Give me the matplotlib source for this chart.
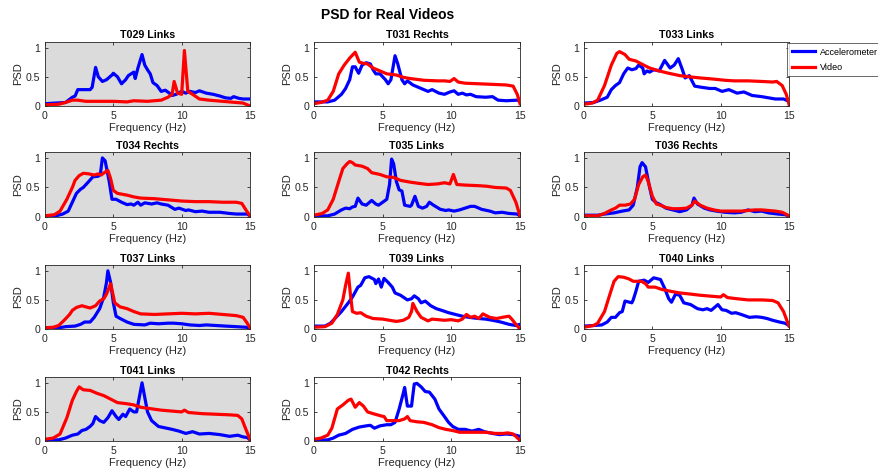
import numpy as np
import matplotlib
matplotlib.use("Agg")
import matplotlib.pyplot as plt

plt.rcParams['font.family'] = ['Liberation Sans', 'DejaVu Sans']

# (frequency Hz, normalised PSD)
t029_acc = [(0, .04), (1.5, .06), (2, .15), (2.2, .17), (2.4, .28), (3.3, .28), (3.45, .32), (3.7, .66), (3.9, .5),
            (4.2, .42), (4.5, .45), (4.9, .53), (5.0, .56), (5.3, .5), (5.6, .38), (5.9, .45), (6.1, .52), (6.3, .55),
            (6.5, .58), (6.6, .47), (6.8, .65), (7.1, .88), (7.3, .7), (7.5, .62), (7.7, .55), (7.9, .4), (8.2, .35),
            (8.5, .25), (8.8, .27), (9.1, .22), (9.3, .18), (9.6, .2), (10, .25), (10.3, .22), (10.6, .25), (11, .23),
            (11.3, .26), (11.8, .22), (12.3, .2), (12.8, .17), (13.2, .14), (13.6, .13), (13.8, .16), (14.2, .13),
            (14.5, .12), (15, .12)]
t029_vid = [(0, .02), (1, .03), (1.5, .06), (2, .1), (2.4, .1), (3, .08), (4, .08), (5, .08), (6, .07), (6.5, .09),
            (7.5, .08), (8.5, .1), (9, .15), (9.3, .2), (9.45, .42), (9.7, .22), (10, .2), (10.2, .95), (10.45, .25),
            (10.8, .2), (11.3, .12), (12, .1), (13, .08), (14, .06), (14.5, .05), (15, 0)]

t031_acc = [(0, .07), (1, .07), (1.5, .1), (2, .2), (2.3, .3), (2.6, .45), (2.8, .67), (3.0, .67), (3.25, .56),
            (3.5, .7), (3.8, .74), (4.1, .72), (4.3, .62), (4.5, .55), (4.8, .55), (5.2, .45), (5.4, .38), (5.6, .45),
            (5.9, .86), (6.1, .72), (6.4, .45), (6.6, .38), (6.8, .43), (7.2, .36), (7.8, .3), (8.3, .25), (8.6, .28),
            (9.1, .22), (9.5, .2), (9.9, .24), (10.2, .26), (10.5, .2), (10.8, .22), (11.1, .19), (11.4, .2),
            (11.8, .16), (12.5, .15), (13, .16), (13.4, .1), (14, .09), (14.8, .1), (15, .08)]
t031_vid = [(0, .04), (0.5, .06), (1, .1), (1.4, .25), (1.8, .55), (2.2, .7), (2.6, .82), (3.0, .92), (3.3, .75),
            (3.6, .73), (3.9, .72), (4.3, .65), (4.8, .6), (5.3, .55), (6, .53), (6.5, .49), (7, .47), (8, .44),
            (9, .43), (9.5, .43), (9.9, .42), (10.2, .47), (10.5, .41), (11, .39), (12, .38), (13, .37), (14, .36),
            (14.5, .34), (14.8, .2), (15, .04)]

t033_acc = [(0, .05), (0.7, .06), (1.2, .1), (1.7, .15), (2, .28), (2.3, .35), (2.6, .4), (2.9, .55), (3.2, .65),
            (3.5, .62), (3.8, .64), (4.0, .7), (4.3, .65), (4.4, .55), (4.6, .6), (4.8, .58), (5.1, .62), (5.5, .6),
            (5.9, .78), (6.3, .65), (6.6, .7), (6.9, .81), (7.2, .62), (7.4, .48), (7.7, .52), (8.1, .34), (8.6, .32),
            (9.2, .3), (9.6, .3), (10.1, .25), (10.6, .28), (11.2, .22), (11.7, .24), (12.3, .18), (13, .16),
            (13.5, .14), (14, .12), (14.6, .12), (15, .08)]
t033_vid = [(0, .03), (0.6, .05), (1, .1), (1.5, .35), (2, .7), (2.4, .9), (2.6, .93), (3, .88), (3.3, .8),
            (3.8, .77), (4.2, .72), (4.8, .65), (5.5, .6), (6.2, .56), (7, .52), (7.7, .5), (8.5, .48), (9.5, .46),
            (10.3, .44), (11, .43), (12, .43), (13, .42), (13.8, .41), (14.1, .42), (14.5, .35), (14.8, .2), (15, .03)]

t034_acc = [(0, .02), (0.8, .02), (1.3, .05), (1.7, .1), (2, .25), (2.3, .4), (2.6, .47), (2.8, .5), (3.2, .6),
            (3.5, .68), (3.9, .69), (4.05, .72), (4.2, 1.0), (4.4, .95), (4.7, .6), (4.9, .3), (5.2, .3), (5.6, .25),
            (6, .21), (6.3, .22), (6.5, .2), (6.8, .25), (7, .2), (7.3, .24), (7.8, .22), (8.2, .24), (8.5, .22),
            (9, .2), (9.5, .13), (9.8, .15), (10.3, .11), (10.5, .12), (11, .09), (11.5, .1), (12, .08), (12.8, .08),
            (13.5, .06), (14, .05), (14.8, .05), (15, .02)]
t034_vid = [(0, .02), (0.7, .04), (1.1, .1), (1.6, .3), (2.0, .5), (2.2, .62), (2.5, .7), (2.8, .74), (3.2, .73),
            (3.6, .71), (3.9, .73), (4.1, .71), (4.4, .76), (4.6, .79), (4.8, .65), (5.0, .45), (5.3, .4), (6, .37),
            (6.5, .34), (7, .32), (8, .31), (9, .29), (10, .27), (11, .26), (12, .26), (13, .25), (14, .25),
            (14.4, .23), (14.7, .12), (15, .02)]

t035_acc = [(0, .02), (1, .02), (1.5, .05), (2, .12), (2.3, .15), (2.6, .14), (2.8, .17), (3.0, .18), (3.2, .32),
            (3.5, .22), (3.8, .2), (4.2, .28), (4.5, .22), (4.7, .2), (5.0, .25), (5.3, .3), (5.5, .55), (5.65, .98),
            (5.8, .9), (6.0, .6), (6.2, .46), (6.4, .44), (6.6, .2), (7.0, .18), (7.1, .2), (7.35, .35), (7.6, .18),
            (7.9, .15), (8.2, .18), (8.4, .25), (8.7, .2), (9.2, .13), (9.6, .11), (9.8, .12), (10.2, .1),
            (10.6, .12), (11, .15), (11.4, .18), (11.7, .18), (12.2, .13), (12.8, .1), (13.2, .07), (13.7, .08),
            (14.2, .06), (14.8, .05), (15, .02)]
t035_vid = [(0, .03), (0.6, .06), (1, .12), (1.4, .3), (1.8, .6), (2.1, .82), (2.4, .9), (2.6, .94), (2.8, .92),
            (3.0, .88), (3.5, .86), (3.9, .82), (4.2, .75), (4.8, .72), (5.3, .68), (5.8, .67), (6.3, .62), (7, .59),
            (7.6, .57), (8.3, .55), (9, .56), (9.5, .58), (9.9, .56), (10.15, .72), (10.4, .55), (11, .54), (12, .53),
            (12.6, .52), (13.2, .5), (14, .49), (14.3, .45), (14.7, .25), (15, .02)]

t036_acc = [(0, .03), (1, .03), (1.5, .05), (2.2, .07), (2.8, .1), (3.3, .12), (3.6, .2), (3.9, .5), (4.1, .85),
            (4.25, .92), (4.5, .85), (4.8, .5), (5.0, .3), (5.3, .24), (5.5, .22), (6, .15), (6.5, .12), (7, .09),
            (7.5, .12), (7.9, .2), (8.05, .32), (8.3, .22), (8.8, .15), (9.2, .12), (9.7, .1), (10.3, .08), (11, .07),
            (11.5, .08), (12, .12), (12.5, .09), (13, .1), (13.5, .07), (14.2, .05), (14.7, .04), (15, .02)]
t036_vid = [(0, .02), (1, .02), (1.5, .06), (2, .12), (2.3, .15), (2.6, .2), (3.0, .2), (3.4, .22), (3.7, .3),
            (4.0, .55), (4.3, .68), (4.5, .71), (4.7, .6), (5.0, .35), (5.3, .22), (5.6, .2), (6, .16), (6.5, .14),
            (7, .14), (7.5, .15), (7.9, .2), (8.1, .27), (8.5, .2), (9, .15), (9.5, .12), (10, .1), (11, .1),
            (11.5, .1), (12, .11), (12.5, .12), (13, .12), (13.5, .11), (14, .1), (14.5, .08), (15, .02)]

t037_acc = [(0, .02), (1, .02), (1.5, .04), (2.2, .05), (2.6, .08), (2.9, .12), (3.3, .12), (3.6, .2), (4, .35),
            (4.3, .55), (4.5, .8), (4.6, 1.0), (4.8, .8), (5.0, .45), (5.2, .22), (5.5, .18), (6, .12), (6.5, .08),
            (7.3, .07), (7.7, .1), (8.3, .09), (9, .1), (9.4, .1), (10, .09), (10.6, .07), (11.3, .06), (11.8, .07),
            (12.5, .06), (13.2, .05), (14, .04), (14.7, .03), (15, .02)]
t037_vid = [(0, .02), (0.6, .03), (1, .06), (1.4, .15), (1.8, .25), (2.0, .32), (2.3, .37), (2.7, .4), (3.0, .38),
            (3.3, .36), (3.7, .4), (4.0, .48), (4.3, .52), (4.5, .6), (4.8, .78), (4.95, .62), (5.1, .45), (5.5, .38),
            (6, .35), (6.5, .3), (7, .26), (8, .25), (9, .26), (10, .27), (11, .26), (12, .27), (13, .25), (14, .23),
            (14.5, .2), (14.8, .1), (15, .02)]

t039_acc = [(0, .05), (0.8, .05), (1.2, .1), (1.6, .2), (2, .3), (2.5, .45), (2.8, .55), (3.2, .72), (3.4, .75),
            (3.7, .88), (4, .9), (4.4, .85), (4.5, .78), (4.7, .86), (4.9, .72), (5.1, .87), (5.4, .8), (5.7, .72),
            (5.9, .62), (6.3, .58), (6.8, .5), (7.1, .52), (7.3, .57), (7.6, .52), (7.8, .45), (8.1, .48), (8.5, .4),
            (8.9, .35), (9.3, .32), (9.8, .28), (10.3, .25), (10.8, .22), (11.3, .2), (12, .18), (12.5, .17),
            (13, .15), (13.6, .12), (14.2, .08), (14.7, .06), (15, .08)]
t039_vid = [(0, .03), (0.8, .04), (1.3, .1), (1.7, .25), (2.1, .5), (2.3, .75), (2.5, .96), (2.65, .6), (2.8, .3),
            (3.1, .27), (3.4, .28), (3.8, .22), (4.3, .18), (5, .17), (5.5, .15), (6, .13), (6.5, .15), (6.9, .2),
            (7.1, .3), (7.2, .44), (7.5, .3), (7.8, .2), (8.3, .14), (8.6, .17), (9.5, .15), (10, .16), (10.5, .14),
            (10.8, .17), (11.1, .25), (11.4, .2), (11.7, .22), (12, .18), (12.3, .26), (12.8, .2), (13.3, .18),
            (13.7, .2), (14.2, .22), (14.4, .17), (14.7, .08), (15, 0)]

t040_acc = [(0, .05), (0.7, .06), (1.3, .07), (1.7, .12), (2, .2), (2.3, .2), (2.6, .28), (2.8, .3), (3.0, .48),
            (3.5, .45), (3.6, .5), (3.8, .65), (4.0, .82), (4.4, .84), (4.7, .8), (5.1, .88), (5.6, .85), (5.9, .7),
            (6.2, .52), (6.4, .46), (6.7, .6), (7.0, .58), (7.3, .45), (7.8, .42), (8.3, .35), (8.7, .33), (9.0, .35),
            (9.3, .32), (9.6, .38), (9.8, .42), (10.1, .33), (10.4, .32), (10.8, .27), (11.1, .28), (11.5, .25),
            (12.1, .2), (12.6, .21), (13, .2), (13.4, .18), (13.8, .15), (14.3, .12), (14.7, .1), (15, .06)]
t040_vid = [(0, .03), (0.7, .06), (1.0, .1), (1.5, .3), (1.9, .6), (2.2, .82), (2.5, .9), (2.9, .89), (3.3, .86),
            (3.6, .82), (4.2, .82), (4.5, .78), (4.7, .72), (5.2, .72), (5.7, .68), (6.3, .65), (7, .62), (7.8, .6),
            (8.5, .58), (9.5, .56), (10, .55), (10.2, .59), (10.5, .54), (11.2, .52), (12, .5), (13, .5), (13.8, .49),
            (14.2, .45), (14.6, .3), (15, .05)]

t041_acc = [(0, .01), (1, .02), (1.5, .05), (2, .1), (2.4, .12), (2.7, .18), (3, .2), (3.3, .25), (3.5, .3),
            (3.7, .42), (4.0, .35), (4.3, .32), (4.6, .4), (4.9, .52), (5.2, .42), (5.4, .37), (5.7, .46), (5.9, .42),
            (6.2, .55), (6.5, .5), (6.7, .5), (6.9, .75), (7.1, 1.0), (7.3, .75), (7.5, .5), (7.8, .35), (8.3, .25),
            (8.7, .23), (9.3, .2), (9.8, .17), (10.3, .13), (10.8, .16), (11.3, .12), (12, .13), (12.8, .11),
            (13.5, .08), (14.1, .1), (14.5, .07), (14.8, .06), (15, .02)]
t041_vid = [(0, .03), (0.6, .05), (1.1, .12), (1.6, .4), (2.0, .7), (2.3, .85), (2.5, .93), (2.8, .88), (3.3, .87),
            (3.8, .82), (4.3, .78), (4.8, .72), (5.3, .66), (6, .64), (6.5, .62), (7, .58), (7.6, .56), (8.5, .53),
            (9.5, .51), (10, .5), (10.2, .53), (10.5, .49), (11.5, .47), (12.5, .46), (13.5, .45), (14.1, .44),
            (14.4, .38), (14.7, .2), (15, .03)]

t042_acc = [(0, .01), (1, .02), (1.4, .05), (1.8, .1), (2.3, .13), (2.8, .2), (3.3, .24), (3.8, .26), (4.1, .27),
            (4.4, .22), (4.8, .26), (5.3, .28), (5.6, .28), (5.9, .32), (6.2, .55), (6.5, .82), (6.6, .92), (6.8, .6),
            (7.1, .6), (7.3, .98), (7.5, .99), (7.8, .93), (8.1, .85), (8.4, .84), (8.8, .72), (9.1, .55), (9.5, .42),
            (9.8, .32), (10.1, .25), (10.5, .2), (11, .2), (11.5, .17), (12, .2), (12.4, .16), (13, .13), (13.5, .11),
            (14, .12), (14.5, .11), (15, .08)]
t042_vid = [(0, .03), (0.5, .05), (1, .1), (1.3, .22), (1.7, .55), (2.1, .62), (2.5, .7), (2.7, .72), (3.0, .58),
            (3.3, .66), (3.6, .6), (3.9, .5), (4.3, .47), (4.9, .43), (5.1, .42), (5.3, .35), (5.8, .35), (6.2, .35),
            (6.6, .38), (6.8, .42), (7.0, .35), (7.5, .33), (8, .32), (8.6, .28), (9.1, .23), (9.6, .2), (10.1, .18),
            (10.6, .15), (11.5, .15), (12.5, .15), (13.2, .13), (13.8, .13), (14.1, .14), (14.5, .12), (14.7, .08),
            (15, .01)]

titles = ['T029 Links', 'T031 Rechts', 'T033 Links', 'T034 Rechts', 'T035 Links', 'T036 Rechts',
          'T037 Links', 'T039 Links', 'T040 Links', 'T041 Links', 'T042 Rechts']
acc_series = [t029_acc, t031_acc, t033_acc, t034_acc, t035_acc, t036_acc, t037_acc, t039_acc, t040_acc,
              t041_acc, t042_acc]
vid_series = [t029_vid, t031_vid, t033_vid, t034_vid, t035_vid, t036_vid, t037_vid, t039_vid, t040_vid,
              t041_vid, t042_vid]
grey_panels = ['T029 Links', 'T034 Rechts', 'T035 Links', 'T036 Rechts', 'T037 Links', 'T041 Links']

W, H = 879, 476
fig = plt.figure(figsize=(W / 100, H / 100), dpi=100)

col_px = [(45, 250), (314, 520), (584, 789)]
row_px = [(41.7, 106), (152, 217), (265, 329), (377, 441)]
txt = (0.15, 0.15, 0.15)

lines = []
for i, name in enumerate(titles):
    r, c = divmod(i, 3)
    l, rr = col_px[c]
    t, b = row_px[r]
    ax = fig.add_axes([l / W, 1 - b / H, (rr - l) / W, (b - t) / H])
    if name in grey_panels:
        ax.set_facecolor((0.86, 0.86, 0.86))
    a = np.array(acc_series[i]).T
    v = np.array(vid_series[i]).T
    la, = ax.plot(a[0], a[1], color=(0, 0, 1), lw=2.3)
    lv, = ax.plot(v[0], v[1], color=(1, 0, 0), lw=2.3)
    lines = [la, lv]
    ax.set_xlim(0, 15)
    ax.set_ylim(0, 1.1)
    ax.set_xticks([0, 5, 10, 15])
    ax.set_yticks([0, 0.5, 1])
    ax.set_yticklabels(['0', '0.5', '1'])
    ax.tick_params(direction='in', top=True, right=True, length=2.5, width=0.6,
                   labelsize=7.6, colors=txt, pad=3.5)
    for s in ax.spines.values():
        s.set_linewidth(0.6)
        s.set_color(txt)
    ax.set_xlabel('Frequency (Hz)', fontsize=8, color=txt, labelpad=1.5)
    ax.set_ylabel('PSD', fontsize=8, color=txt, labelpad=1.5)
    ax.set_title(name, fontsize=7.7, fontweight='bold', pad=2.5)

leg = fig.legend(lines, ['Accelerometer', 'Video'], loc='upper left',
                 bbox_to_anchor=(787 / W, 1 - 43 / H), fontsize=6.5, frameon=True,
                 fancybox=False, edgecolor=txt, handlelength=2.6, borderpad=0.5,
                 labelspacing=0.7, handletextpad=0.5, borderaxespad=0)
leg.get_frame().set_linewidth(0.6)

fig.text(388 / W, 1 - 15 / H, 'PSD for Real Videos', ha='center', va='center',
         fontsize=10, fontweight='bold')

fig.savefig('out.png', dpi=100)
